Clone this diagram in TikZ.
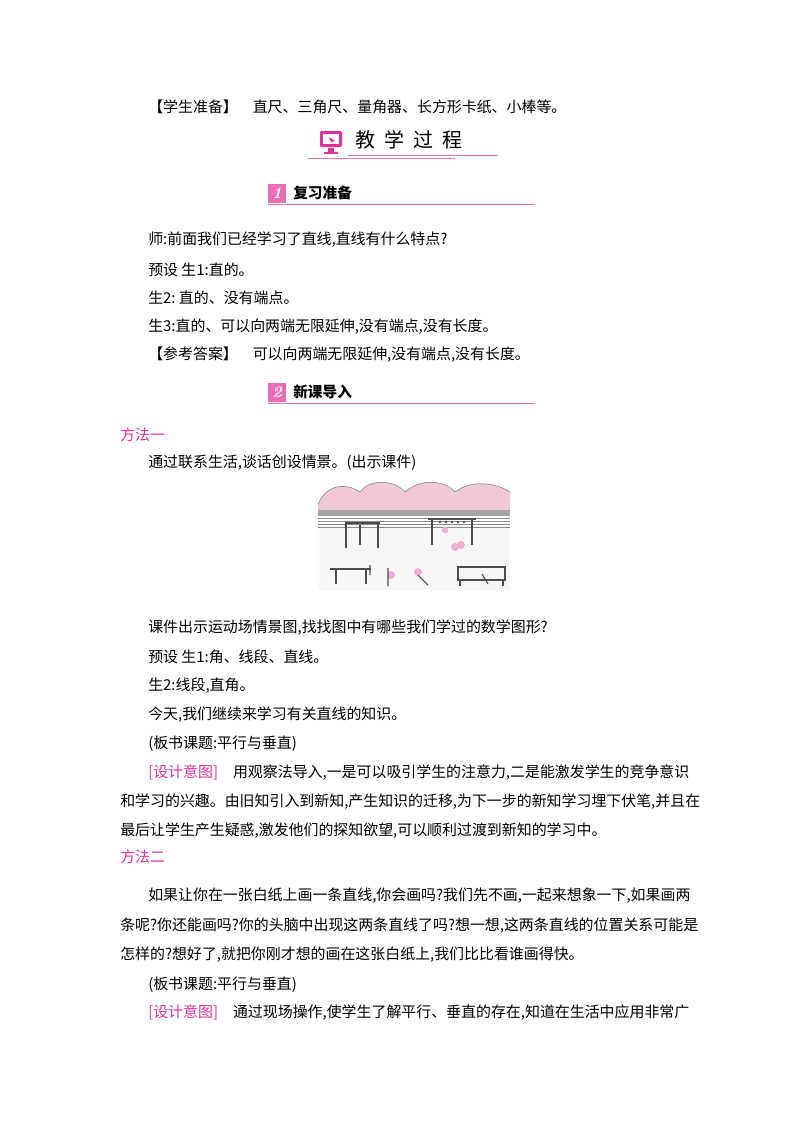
\documentclass[tikz,border=0pt]{standalone}
\usepackage{fontspec}
\newfontfamily\cjk{Noto Sans CJK SC}
\definecolor{pk}{RGB}{222,50,150}
\definecolor{pkl}{RGB}{240,200,215}
\definecolor{pkline}{RGB}{225,120,170}
\begin{document}
\begin{tikzpicture}[x=0.75pt,y=-0.75pt,
  t/.style={anchor=west,inner sep=0pt,font=\cjk\fontsize{11.2pt}{12pt}\selectfont},
  hd/.style={anchor=west,inner sep=0pt,font=\cjk\bfseries\fontsize{11pt}{12pt}\selectfont},
  fig/.style={line width=0.8pt,black!70}]
\useasboundingbox (0,0) rectangle (800,1132);
\fill[white] (0,0) rectangle (800,1132);
\node[t] (l0) at (148,107) {【学生准备】\quad 直尺、三角尺、量角器、长方形卡纸、小棒等。};
% section title
\fill[pk,rounded corners=1pt] (320,131) rectangle (342,147);
\fill[white] (323,134) rectangle (339,144);
\fill[pk] (328,148) rectangle (334,152);
\fill[pk] (324,152) rectangle (338,154);
\fill[pk] (329,137) -- (335,141) -- (331,142) -- cycle;
\node[t,font=\cjk\fontsize{15pt}{16pt}\selectfont] (title) at (355,140) {教\ \ 学\ \ 过\ \ 程};
\draw[pkline,line width=0.6pt] (348,155) -- (498,155);
\draw[pkline,line width=0.6pt] (308,158) -- (455,158);
% heading 1
\fill[pk!70] (268,184) rectangle (286,203);
\node[anchor=center,text=white,font=\bfseries\itshape\fontsize{12pt}{12pt}\selectfont] (n1) at (277,193) {1};
\node[hd] (h1) at (293,193) {复习准备};
\draw[pkline,line width=0.6pt] (268,204) -- (535,204);
\node[t] at (148,240) {师:前面我们已经学习了直线,直线有什么特点?};
\node[t] at (148,270) {预设\ 生1:直的。};
\node[t] at (148,298) {生2:\ 直的、没有端点。};
\node[t] at (148,327) {生3:直的、可以向两端无限延伸,没有端点,没有长度。};
\node[t] at (148,355) {【参考答案】\quad 可以向两端无限延伸,没有端点,没有长度。};
% heading 2
\fill[pk!70] (268,383) rectangle (286,402);
\node[anchor=center,text=white,font=\bfseries\itshape\fontsize{12pt}{12pt}\selectfont] (n2) at (277,392) {2};
\node[hd] (h2) at (293,392) {新课导入};
\draw[pkline,line width=0.6pt] (268,403) -- (535,403);
\node[t,text=pk] at (120,435) {方法一};
\node[t] at (148,463) {通过联系生活,谈话创设情景。(出示课件)};
% picture
\begin{scope}
\fill[pkl] (318,505) .. controls (325,485) and (345,482) .. (360,492) .. controls (370,478) and (395,480) .. (405,492)
 .. controls (420,478) and (445,480) .. (455,492) .. controls (470,480) and (495,482) .. (510,492) -- (510,510) -- (318,510) -- cycle;
\draw[black!50,line width=0.4pt] (318,505) .. controls (325,485) and (345,482) .. (360,492) .. controls (370,478) and (395,480) .. (405,492)
 .. controls (420,478) and (445,480) .. (455,492) .. controls (470,480) and (495,482) .. (510,492);
\fill[black!35] (318,510) rectangle (510,516);
\foreach \yy in {518,521,524,527} \draw[black!45,line width=0.4pt] (318,\yy) -- (510,\yy);
\fill[black!3] (318,528) rectangle (510,590);
\draw[fig] (345,523) -- (380,523) (346,523) -- (346,548) (378,523) -- (378,548);
\draw[fig] (360,525) -- (360,545);
\draw[fig] (428,519) -- (476,519) (432,519) -- (432,545) (472,519) -- (472,545);
\foreach \xx in {440,446,452,458,464} \fill[black!70] (\xx,522) circle (1pt);
\fill[pk!40] (445,530) circle (2.5pt) (455,547) circle (3pt) (461,545) circle (3pt) (418,572) circle (3pt) (391,575) circle (3pt);
\draw[fig] (330,569) -- (371,569) (336,569) -- (336,584) (366,569) -- (366,584);
\draw[fig] (370,565) -- (370,575) (388,568) -- (388,586) (418,575) -- (428,585);
\draw[fig] (458,567) rectangle (505,580) (460,580) -- (460,586) (503,580) -- (503,586);
\draw[fig] (482,574) -- (488,584);
\end{scope}
\node[t] at (148,628) {课件出示运动场情景图,找找图中有哪些我们学过的数学图形?};
\node[t] at (148,657) {预设\ 生1:角、线段、直线。};
\node[t] at (148,686) {生2:线段,直角。};
\node[t] at (148,715) {今天,我们继续来学习有关直线的知识。};
\node[t] at (148,744) {(板书课题:平行与垂直)};
\node[t] at (148,773) {\textcolor{pk}{[设计意图]}\quad 用观察法导入,一是可以吸引学生的注意力,二是能激发学生的竞争意识};
\node[t] at (120,802) {和学习的兴趣。由旧知引入到新知,产生知识的迁移,为下一步的新知学习埋下伏笔,并且在};
\node[t] at (120,831) {最后让学生产生疑惑,激发他们的探知欲望,可以顺利过渡到新知的学习中。};
\node[t,text=pk] at (120,857) {方法二};
\node[t] at (148,896) {如果让你在一张白纸上画一条直线,你会画吗?我们先不画,一起来想象一下,如果画两};
\node[t] at (120,926) {条呢?你还能画吗?你的头脑中出现这两条直线了吗?想一想,这两条直线的位置关系可能是};
\node[t] at (120,955) {怎样的?想好了,就把你刚才想的画在这张白纸上,我们比比看谁画得快。};
\node[t] at (148,985) {(板书课题:平行与垂直)};
\node[t] at (148,1013) {\textcolor{pk}{[设计意图]}\quad 通过现场操作,使学生了解平行、垂直的存在,知道在生活中应用非常广};
\end{tikzpicture}
\end{document}
